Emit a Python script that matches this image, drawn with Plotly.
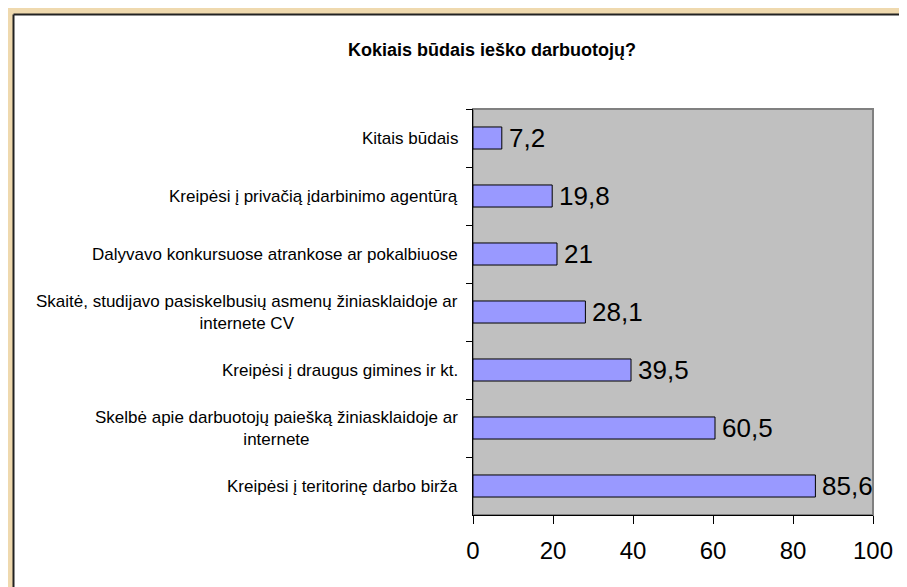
import plotly.graph_objects as go

# duomenys
categories = [
    "Kitais būdais",
    "Kreipėsi į privačią įdarbinimo agentūrą",
    "Dalyvavo konkursuose atrankose ar pokalbiuose",
    "Skaitė, studijavo pasiskelbusių asmenų žiniasklaidoje ar<br>internete CV",
    "Kreipėsi į draugus gimines ir kt.",
    "Skelbė apie darbuotojų paiešką žiniasklaidoje ar<br>internete",
    "Kreipėsi į teritorinę darbo birža",
]
values = [7.2, 19.8, 21, 28.1, 39.5, 60.5, 85.6]
value_labels = ["7,2", "19,8", "21", "28,1", "39,5", "60,5", "85,6"]
x_ticks = [0, 20, 40, 60, 80, 100]

FONT = "Liberation Sans, Arial, sans-serif"
W, H = 907, 587
# puslapis turi 8px atitraukima, todel viskas skaiciuojama figuros koordinatemis
L, T = 465, 101
R = W - 865
B = H - 507
PW = W - L - R
PH = H - T - B

def px_x(p):
    return (p - L) / PW

def px_y(p):
    return 1 - (p - T) / PH

trace = go.Bar(
    x=values,
    y=categories,
    orientation="h",
    marker=dict(color="#9999FF", line=dict(color="black", width=1)),
    cliponaxis=False,
    hoverinfo="x+y",
)

annots = []
# kategoriju uzrasai (centruotos eilutes)
for c in categories:
    annots.append(dict(
        x=0, xref="paper", y=c, yref="y",
        text=c, showarrow=False, xanchor="right", align="center",
        xshift=-13, font=dict(size=17, color="black", family=FONT),
    ))
# reiksmes prie stulpeliu
for c, v, t in zip(categories, values, value_labels):
    annots.append(dict(
        x=v, xref="x", y=c, yref="y",
        text=t, showarrow=False, xanchor="left", yanchor="middle",
        xshift=5, font=dict(size=26, color="black", family=FONT),
    ))

BEIGE = "#EFD9AE"
shapes = [
    # remelis virsuje ir kaireje
    dict(type="rect", xref="paper", yref="paper",
         x0=px_x(-5), x1=px_x(W + 5), y0=px_y(-5), y1=px_y(6),
         fillcolor=BEIGE, line=dict(width=0), layer="below"),
    dict(type="rect", xref="paper", yref="paper",
         x0=px_x(-5), x1=px_x(5), y0=px_y(-5), y1=px_y(H + 5),
         fillcolor=BEIGE, line=dict(width=0), layer="below"),
    dict(type="line", xref="paper", yref="paper",
         x0=px_x(5.5), x1=px_x(W + 5), y0=px_y(6.5), y1=px_y(6.5),
         line=dict(color="#222222", width=2), layer="below"),
    dict(type="line", xref="paper", yref="paper",
         x0=px_x(5.5), x1=px_x(5.5), y0=px_y(6.5), y1=px_y(H + 5),
         line=dict(color="#222222", width=2), layer="below"),
    # braizymo srities remelis
    dict(type="rect", xref="paper", yref="paper", x0=0, x1=1, y0=0, y1=1,
         fillcolor="#C0C0C0", line=dict(color="#808080", width=2), layer="below"),
]

layout = go.Layout(
    width=W, height=H,
    margin=dict(l=L, r=R, t=T, b=B),
    paper_bgcolor="white",
    plot_bgcolor="#C0C0C0",
    font=dict(family=FONT, color="black"),
    title=dict(text="<b>Kokiais būdais ieško darbuotojų?</b>",
               x=484 / W, xanchor="center", y=1 - 42 / H, yanchor="middle",
               font=dict(size=18, color="black", family=FONT)),
    xaxis=dict(range=[0, 100], tickvals=x_ticks, ticks="outside", ticklen=8,
               tickcolor="black", showline=True, linecolor="black", linewidth=1,
               showgrid=False, zeroline=False, tickfont=dict(size=24),
               ticklabelstandoff=6, fixedrange=True),
    yaxis=dict(autorange="reversed", showticklabels=False, ticks="outside",
               tickson="boundaries", ticklen=6, tickcolor="black",
               showline=True, linecolor="black", linewidth=1, showgrid=False,
               fixedrange=True),
    bargap=0.62,
    showlegend=False,
    annotations=annots,
    shapes=shapes,
)

fig = go.Figure(data=[trace], layout=layout)
fig.write_html("out.html")
